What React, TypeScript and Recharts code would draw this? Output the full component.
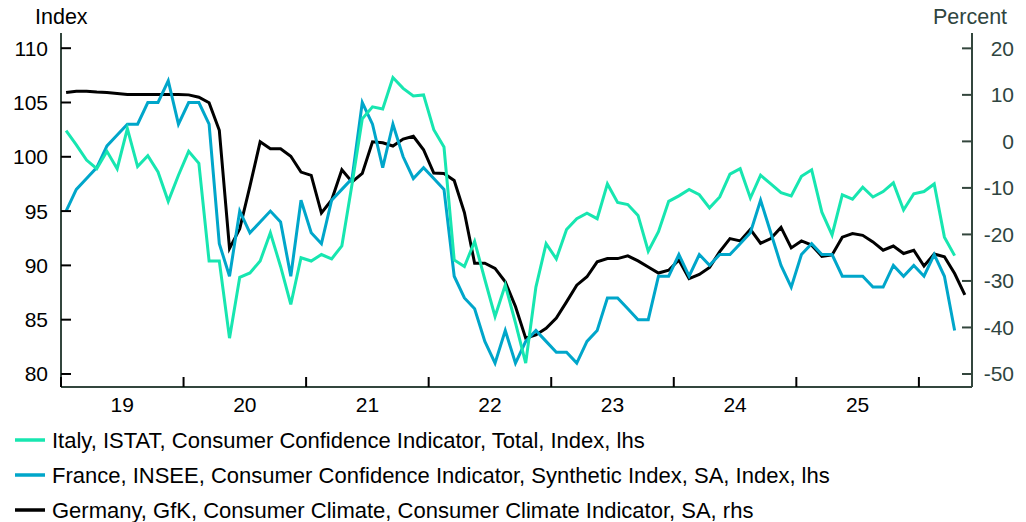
import { LineChart, Line, XAxis, YAxis } from "recharts";

// monthly, Jan 2019 onwards (x = month index + 0.5)
const italy = [
  102.4, 101.1, 99.7, 98.9, 100.5, 98.9, 102.6, 99.1, 100.1, 98.6, 95.9, 98.3,
  100.5, 99.4, 90.4, 90.4, 83.3, 88.9, 89.3, 90.4, 93.0, 89.9, 86.4, 90.7,
  90.4, 91.0, 90.6, 91.8, 97.5, 103.5, 104.6, 104.4, 107.3, 106.3, 105.6, 105.7,
  102.5, 100.9, 90.5, 89.9, 92.2, 88.7, 85.3, 88.2, 84.7, 81.0, 88.0, 92.0,
  90.6, 93.3, 94.3, 94.8, 94.3, 97.5, 95.8, 95.6, 94.6, 91.3, 93.1, 95.9,
  96.4, 97.0, 96.5, 95.3, 96.3, 98.4, 98.9, 96.2, 98.3, 97.5, 96.7, 96.4,
  98.2, 98.8, 94.9, 92.8, 96.5, 96.1, 97.2, 96.3, 96.8, 97.6, 95.1, 96.6,
  96.8, 97.5, 92.6, 90.9,
];

const france = [
  95, 97, 98, 99, 101, 102, 103, 103, 105, 105, 107, 103,
  105, 105, 103, 92, 89, 95, 93, 94, 95, 94, 89, 96,
  93, 92, 96, 97, 98, 105, 103, 99, 103, 100, 98, 99,
  98, 97, 89, 87, 86, 83, 81, 84, 81, 83, 84, 83,
  82, 82, 81, 83, 84, 87, 87, 86, 85, 85, 89, 89,
  91, 89, 91, 90, 91, 91, 92, 93, 96, 93, 90, 88,
  91, 92, 91, 91, 89, 89, 89, 88, 88, 90, 89, 90,
  89, 91, 89, 84,
];

const germany = [
  10.5, 10.8, 10.8, 10.6, 10.5, 10.3, 10.1, 10.1, 10.1, 10.1, 10.1, 10.1,
  10.0, 9.5, 8.3, 2.4, -23.0, -18.8, -9.6, -0.1, -1.6, -1.6, -3.2, -6.6,
  -7.3, -15.4, -12.6, -6.1, -8.7, -6.9, -0.1, -0.3, -1.0, 0.5, 1.1, -1.8,
  -6.8, -6.9, -8.4, -15.3, -26.2, -26.2, -27.3, -30.2, -35.5, -42.3, -41.6, -40.2,
  -38.0, -34.5, -30.9, -29.1, -25.9, -25.2, -25.2, -24.6, -25.7, -27.0, -28.3, -27.7,
  -25.5, -29.5, -28.6, -27.1, -23.7, -20.9, -21.4, -18.9, -21.9, -20.9, -18.5, -22.9,
  -21.4, -22.3, -24.7, -24.4, -20.6, -19.8, -20.2, -21.6, -23.4, -22.5, -24.1, -23.4,
  -26.8, -24.2, -24.8, -28.4, -33.0,
];

const yearLabels = ["19", "20", "21", "22", "23", "24", "25"];
const leftTicks = [80, 85, 90, 95, 100, 105, 110];
const rightTicks = [-50, -40, -30, -20, -10, 0, 10, 20];

const series = [
  { key: "germany", axis: "right", color: "#000000", label: "Germany, GfK, Consumer Climate, Consumer Climate Indicator, SA, rhs" },
  { key: "france", axis: "left", color: "#00a6ca", label: "France, INSEE, Consumer Confidence Indicator, Synthetic Index, SA, Index, lhs" },
  { key: "italy", axis: "left", color: "#17e6b0", label: "Italy, ISTAT, Consumer Confidence Indicator, Total, Index, lhs" },
];
const legendOrder = ["italy", "france", "germany"];

const data = germany.map((g, i) => ({
  m: i + 0.5,
  italy: italy[i],
  france: france[i],
  germany: g,
}));

// year boundaries get a tick mark, mid-years get the label
const xTicks: number[] = [];
for (let i = 0; i <= yearLabels.length; i++) {
  xTicks.push(i * 12);
  if (i < yearLabels.length) xTicks.push(i * 12 + 6);
}

const FONT = "'Liberation Sans', Arial, sans-serif";
const AXIS = "#33463d";
const RIGHT_TEXT = "#2f4540";
const FS = 21;

function LeftTick({ x, y, payload }: any) {
  return (
    <g>
      <line x1={x} y1={y} x2={x + 10} y2={y} stroke="#000" strokeWidth={2} />
      <text x={x - 13} y={y} dy={7.5} textAnchor="end" fill="#000" fontSize={FS} fontFamily={FONT}>
        {payload.value}
      </text>
    </g>
  );
}

function RightTick({ x, y, payload }: any) {
  return (
    <g>
      <line x1={x - 10} y1={y} x2={x} y2={y} stroke={AXIS} strokeWidth={2} />
      <text x={x + 42} y={y} dy={7.5} textAnchor="end" fill={RIGHT_TEXT} fontSize={FS} fontFamily={FONT}>
        {payload.value}
      </text>
    </g>
  );
}

function XTick({ x, y, payload }: any) {
  const v = payload.value;
  if (v % 12 === 0) {
    return <line x1={x} y1={y} x2={x} y2={y - 10} stroke="#000" strokeWidth={2} />;
  }
  return (
    <text x={x} y={y} dy={25} textAnchor="middle" fill="#000" fontSize={FS} fontFamily={FONT}>
      {yearLabels[(v - 6) / 12]}
    </text>
  );
}

export default function App() {
  return (
    <div style={{ position: "absolute", left: 0, top: 0, width: 1026, height: 522, background: "#fff", fontFamily: FONT }}>
      <LineChart width={1026} height={417} data={data} margin={{ top: 33, right: 0, bottom: 0, left: 0 }}>
        <XAxis
          dataKey="m"
          type="number"
          domain={[0, 89.2]}
          allowDataOverflow
          ticks={xTicks}
          interval={0}
          height={30}
          tickSize={0}
          tickMargin={0}
          tickLine={false}
          tick={<XTick />}
          axisLine={{ stroke: AXIS, strokeWidth: 2 }}
        />
        <YAxis
          yAxisId="left"
          orientation="left"
          width={61}
          domain={[78.8, 111.4]}
          allowDataOverflow
          ticks={leftTicks}
          interval={0}
          tickSize={0}
          tickMargin={0}
          tickLine={false}
          tick={<LeftTick />}
          axisLine={{ stroke: AXIS, strokeWidth: 2 }}
        />
        <YAxis
          yAxisId="right"
          orientation="right"
          width={54}
          domain={[-52.8, 23.3]}
          allowDataOverflow
          ticks={rightTicks}
          interval={0}
          tickSize={0}
          tickMargin={0}
          tickLine={false}
          tick={<RightTick />}
          axisLine={{ stroke: AXIS, strokeWidth: 2 }}
        />
        {series.map((s) => (
          <Line
            key={s.key}
            yAxisId={s.axis}
            dataKey={s.key}
            type="linear"
            stroke={s.color}
            strokeWidth={3}
            dot={false}
            activeDot={false}
            isAnimationActive={false}
          />
        ))}
      </LineChart>
      <svg width={1026} height={522} style={{ position: "absolute", left: 0, top: 0, pointerEvents: "none" }}>
        <text x={35} y={24} fontSize={21.5} fontFamily={FONT} fill="#000">Index</text>
        <text x={933} y={24} fontSize={21.5} fontFamily={FONT} fill={RIGHT_TEXT}>Percent</text>
        {legendOrder.map((k, i) => {
          const s = series.find((q) => q.key === k)!;
          const cy = 440 + i * 35;
          return (
            <g key={k}>
              <line x1={15} x2={45} y1={cy} y2={cy} stroke={s.color} strokeWidth={3.5} />
              <text x={52} y={cy + 7.5} fontSize={22} fontFamily={FONT} fill="#000">{s.label}</text>
            </g>
          );
        })}
      </svg>
    </div>
  );
}
